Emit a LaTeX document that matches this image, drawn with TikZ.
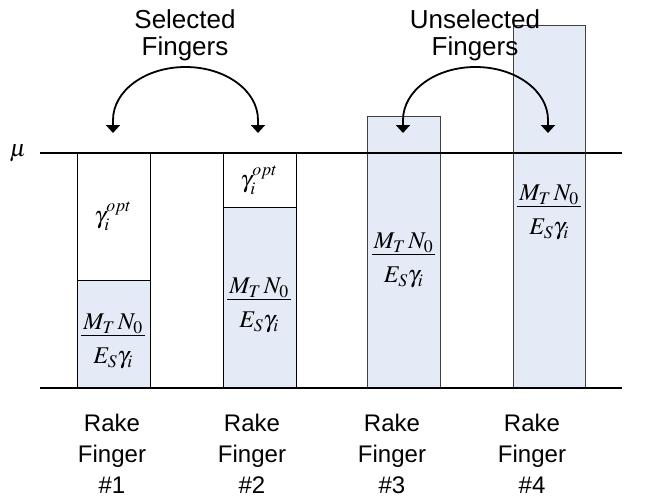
\documentclass[tikz,border=0pt]{standalone}
\usepackage{mathptmx}
\usepackage[no-math]{fontspec}
\setmainfont{Liberation Sans}
\usetikzlibrary{arrows.meta}
\definecolor{barblue}{HTML}{E4EBF6}
\definecolor{bargray}{HTML}{404040}
\newcommand{\rkfrac}{\vbox{\offinterlineskip\halign{\hfil\kern2pt##\kern2pt\hfil\cr$M_T\,N_0$\cr\noalign{\kern1.5pt\hrule height0.8pt\kern12pt}$E_S\gamma_i$\cr}}}
\begin{document}
\begin{tikzpicture}[x=1pt,y=-1pt,
  whitepart/.style={draw=black,line width=0.8pt,fill=white},
  bluepart/.style={draw=black,line width=0.8pt,fill=barblue},
  bluebar/.style={draw=bargray,line width=1pt,fill=barblue},
  axisline/.style={line width=2.6pt},
  toplbl/.style={align=center,inner sep=0pt,anchor=north,font=\fontsize{26}{27}\selectfont},
  botlbl/.style={align=center,inner sep=0pt,anchor=north,font=\fontsize{24}{31}\selectfont},
  mathlbl/.style={inner sep=0pt,font=\fontsize{24}{28}\selectfont},
  fraclbl/.style={inner sep=0pt,anchor=north,font=\fontsize{24}{28}\selectfont},
  arcarrow/.style={line width=1.8pt,{Triangle[width=14pt,length=8pt]}-{Triangle[width=14pt,length=8pt]}}]
\useasboundingbox (0,0) rectangle (651,499);
% bars
\draw[whitepart] (77,153) rectangle (150,280);
\draw[bluepart] (77,280) rectangle (150,388);
\draw[whitepart] (223,153) rectangle (296,207);
\draw[bluepart] (223,207) rectangle (296,388);
\draw[bluebar] (367,116) rectangle (440,388);
\draw[bluebar] (513,25) rectangle (585,388);
% axis lines
\coordinate (muL) at (40,153);
\coordinate (muR) at (622,153);
\coordinate (baseL) at (40,388);
\coordinate (baseR) at (622,388);
\draw[axisline] (muL) -- (muR);
\draw[axisline] (baseL) -- (baseR);
\node[mathlbl,anchor=base] (mu) at (18,156) {$\mu$};
% texts in bars
\node[mathlbl] (g1) at (113,216) {$\gamma_i^{opt}$};
\node[mathlbl] (g2) at (259,180) {$\gamma_i^{opt}$};
\node[fraclbl] (f1) at (113,314) {\rkfrac};
\node[fraclbl] (f2) at (259,278) {\rkfrac};
\node[fraclbl] (f3) at (403.5,233) {\rkfrac};
\node[fraclbl] (f4) at (549,185) {\rkfrac};
% top labels
\node[toplbl] (sel) at (185,9) {Selected\\Fingers};
\node[toplbl] (unsel) at (475,9) {Unselected\\Fingers};
% arrows
\coordinate (s1) at (113,133);
\coordinate (s2) at (258,133);
\coordinate (u1) at (403,133);
\coordinate (u2) at (548,133);
\draw[arcarrow] (s1) -- (113,120) .. controls (113,90.7) and (145.4,67) .. (185.5,67)
  .. controls (225.6,67) and (258,90.7) .. (258,120) -- (s2);
\draw[arcarrow] (u1) -- (403,120) .. controls (403,90.7) and (435.4,67) .. (475.5,67)
  .. controls (515.6,67) and (548,90.7) .. (548,120) -- (u2);
% bottom labels
\node[botlbl] (r1) at (112,414) {Rake\\Finger\\\#1};
\node[botlbl] (r2) at (252,414) {Rake\\Finger\\\#2};
\node[botlbl] (r3) at (392,414) {Rake\\Finger\\\#3};
\node[botlbl] (r4) at (532,414) {Rake\\Finger\\\#4};
\end{tikzpicture}
\end{document}
